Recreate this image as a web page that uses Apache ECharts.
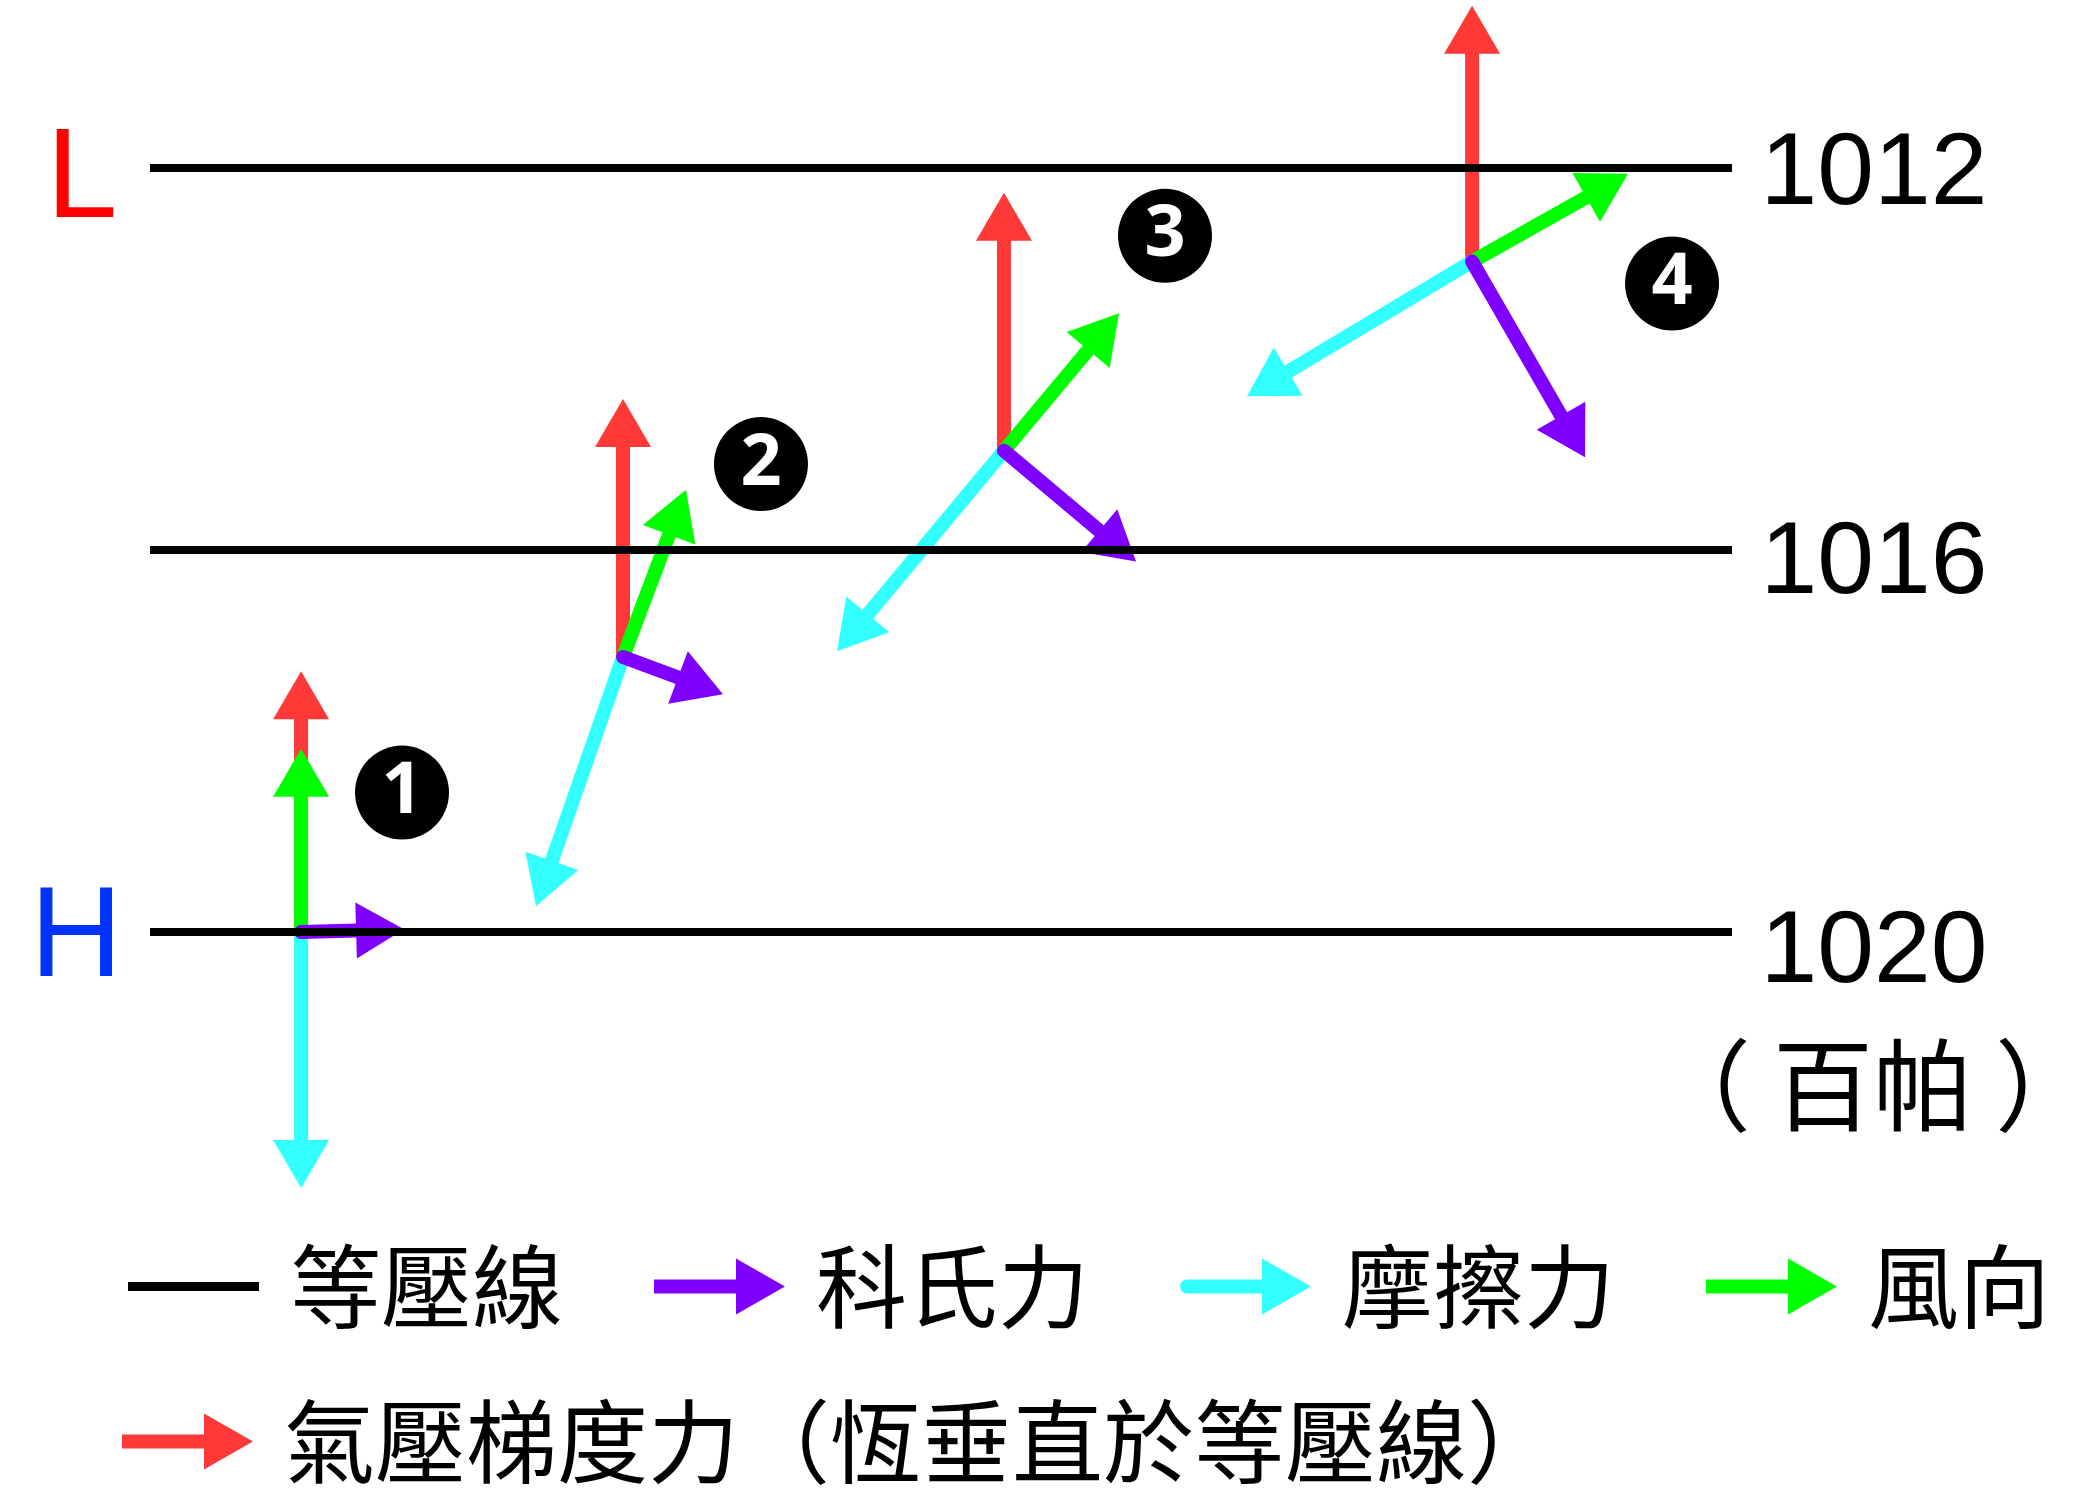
<!DOCTYPE html>
<html>
<head>
<meta charset="utf-8">
<style>
html,body{margin:0;padding:0;background:#fff;}
#chart{width:2079px;height:1504px;}
</style>
<script src="https://cdn.jsdelivr.net/npm/echarts@6/dist/echarts.min.js"></script>
</head>
<body>
<div id="chart"></div>
<script>
// ---- data (x: distance along isobars 0-100, y: pressure hPa) ----
const isobars = [1012, 1016, 1020];
const centers = ['L', 'H'];
const centerPressure = [1012, 1020];
const unitLabel = ['（', '百帕', '）'];
const stations = ['1', '2', '3', '4'];
const stationOrigin = [[9.55, 1020.0], [29.90, 1017.12], [53.98, 1014.96], [83.57, 1012.98]];
const pgfTip = [[9.55, 1017.27], [29.90, 1014.42], [53.98, 1012.26], [83.57, 1010.30]];
const frictionTip = [[9.55, 1022.68], [24.40, 1019.73], [43.43, 1017.06], [69.34, 1014.39]];
const windTip = [[9.55, 1018.08], [33.88, 1015.37], [61.25, 1013.52], [93.43, 1012.06]];
const coriolisTip = [[16.06, 1019.97], [36.22, 1017.51], [62.33, 1016.12], [90.71, 1015.03]];
const stationMarker = [[15.93, 1018.54], [38.62, 1015.10], [64.16, 1012.71], [96.21, 1013.21]];
const legendNames = ['等壓線', '科氏力', '摩擦力', '風向', '氣壓梯度力（恆垂直於等壓線）'];

// ---- rendering ----
const CJK = '"Noto Sans CJK TC", "Noto Sans CJK SC", sans-serif';
const LATIN = '"Liberation Sans", Arial, sans-serif';
const chart = echarts.init(document.getElementById('chart'));

function vectors(tips) {
  return stationOrigin.map((o, i) => [o[0], o[1], tips[i][0], tips[i][1]]);
}
function renderArrow(params, api) {
  const s = api.coord([api.value(0), api.value(1)]);
  const e = api.coord([api.value(2), api.value(3)]);
  const dx = e[0] - s[0], dy = e[1] - s[1];
  const len = Math.hypot(dx, dy);
  const ux = dx / len, uy = dy / len, nx = -uy, ny = ux;
  const H = 48, W = 28;
  const bx = e[0] - ux * H, by = e[1] - uy * H;
  const color = api.visual('color');
  return {
    type: 'group',
    children: [
      { type: 'line', shape: { x1: s[0], y1: s[1], x2: e[0] - ux * H * 0.8, y2: e[1] - uy * H * 0.8 },
        style: { stroke: color, lineWidth: 14, lineCap: 'round' } },
      { type: 'polygon', shape: { points: [[e[0], e[1]], [bx + nx * W, by + ny * W], [bx - nx * W, by - ny * W]] },
        style: { fill: color } }
    ]
  };
}
function arrowSeries(name, color, tips) {
  return {
    name: name, type: 'custom', renderItem: renderArrow,
    itemStyle: { color: color }, silent: true,
    encode: { x: [0, 2], y: [1, 3] },
    data: vectors(tips)
  };
}

const ARROW_ICON = 'path://M0,0 M0,21 L82,21 L82,0 L131,28 L82,56 L82,35 L0,35 Z';
const ROUND_ARROW_ICON = 'path://M0,0 M131,56 M7,21 L82,21 L82,0 L131,28 L82,56 L82,35 L7,35 A7,7 0 0 1 7,21 Z';
const LINE_ICON = 'path://M0,0 M131,56 M0,23.5 L131,23.5 L131,32.5 L0,32.5 Z';
const icons = [LINE_ICON, ARROW_ICON, ROUND_ARROW_ICON, ARROW_ICON, ARROW_ICON];
const legendItems = legendNames.map((n, i) => ({ name: n, icon: icons[i] }));

function legendBox(left, top, items) {
  return {
    left: left, top: top, width: 2000, padding: 0,
    itemWidth: 131, itemHeight: 56, itemGap: 91,
    selectedMode: false,
    itemStyle: { borderWidth: 0 },
    textStyle: { fontSize: 91, fontFamily: CJK, color: '#000', lineHeight: 50, padding: [0, 0, 14, 26] },
    data: items
  };
}

const isobarLabelOffset = [8, 15, 22];
const centerLabelStyle = [
  { color: '#FF0000', distance: 32, offset: [0, 14] },
  { color: '#0033FF', distance: 27, offset: [0, 9] }
];
const hidden = 'rgba(255,255,255,0)';

const option = {
  animation: false,
  backgroundColor: '#ffffff',
  title: {
    text: '{a|' + unitLabel[0] + '}' + unitLabel[1] + '{c|' + unitLabel[2] + '}',
    left: 1651, top: 1035, padding: 0,
    textStyle: {
      fontSize: 100, fontWeight: 'normal', fontFamily: CJK, color: '#000', lineHeight: 100,
      rich: {
        a: { fontSize: 100, fontFamily: CJK, color: '#000', lineHeight: 100, padding: [0, 22, 0, 0] },
        c: { fontSize: 100, fontFamily: CJK, color: '#000', lineHeight: 100, padding: [0, 0, 0, 22] }
      }
    }
  },
  legend: [legendBox(128, 1241, legendItems.slice(0, 4)), legendBox(122, 1396, legendItems.slice(4))],
  grid: { left: 150, right: 347, top: 0, bottom: 0 },
  xAxis: { type: 'value', min: 0, max: 100, show: false },
  yAxis: { type: 'value', min: 1010 + 23 / 95.5, max: 1010 + 23 / 95.5 + 1504 / 95.5, inverse: true, show: false },
  series: [
    {
      name: legendNames[0], type: 'line', data: [], color: '#000',
      itemStyle: { color: '#000' }, lineStyle: { color: '#000' },
      markLine: {
        silent: true, symbol: ['none', 'none'], animation: false,
        lineStyle: { color: '#000', width: 8, type: 'solid' },
        emphasis: { disabled: true },
        label: { show: false },
        data: isobars.map(p => ({ yAxis: p }))
      }
    },
    {
      name: 'isobarLabels', type: 'scatter', clip: false, silent: true,
      symbolSize: 1, itemStyle: { color: hidden, opacity: 1 },
      label: {
        show: true, position: 'right', distance: 28, fontSize: 102, fontFamily: LATIN, color: '#000',
        formatter: p => p.name
      },
      data: isobars.map((p, i) => ({ name: String(p), value: [100, p], label: { offset: [0, isobarLabelOffset[i]] } }))
    },
    {
      name: 'centers', type: 'scatter', clip: false, silent: true,
      symbolSize: 1, itemStyle: { color: hidden, opacity: 1 },
      label: {
        show: true, position: 'left', fontSize: 128, fontFamily: LATIN,
        formatter: p => p.name
      },
      data: centers.map((c, i) => ({ name: c, value: [0, centerPressure[i]], label: centerLabelStyle[i] }))
    },
    arrowSeries(legendNames[4], '#FF3838', pgfTip),
    arrowSeries(legendNames[2], '#33FFFF', frictionTip),
    arrowSeries(legendNames[3], '#00FF00', windTip),
    arrowSeries(legendNames[1], '#8000FF', coriolisTip),
    {
      name: 'stations', type: 'scatter', clip: false, silent: true,
      symbol: 'circle', symbolSize: 94,
      itemStyle: { color: '#000', opacity: 1 },
      label: {
        show: true, position: 'inside', color: '#fff', fontSize: 72, fontWeight: 'bold',
        fontFamily: '"Open Sans", sans-serif', formatter: p => p.name
      },
      data: stationMarker.map((m, i) => ({ name: stations[i], value: m }))
    }
  ]
};
chart.setOption(option);
</script>
</body>
</html>
